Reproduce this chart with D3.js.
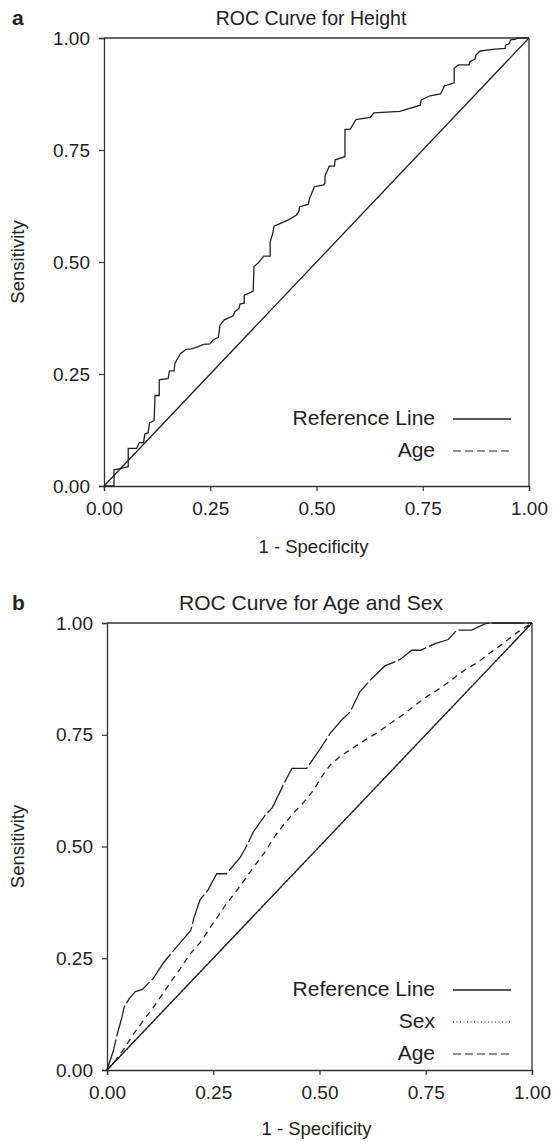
<!DOCTYPE html>
<html>
<head>
<meta charset="utf-8">
<script src="https://cdn.jsdelivr.net/npm/d3@7"></script>
<style>
  body { margin: 0; background: #fff; }
  svg text { font-family: "Liberation Sans", Arial, sans-serif; fill: #222; }
</style>
</head>
<body>
<div id="root"></div>
<script>
// ROC points: [1 - specificity, sensitivity]
const heightROC = [[0,0],[0.0235,0],[0.0235,0.036],[0.038,0.039],[0.057,0.043],[0.057,0.084],[0.077,0.084],[0.083,0.097],[0.093,0.097],[0.096,0.116],[0.104,0.119],[0.107,0.141],[0.118,0.146],[0.12,0.202],[0.13,0.202],[0.13,0.237],[0.151,0.24],[0.154,0.257],[0.165,0.257],[0.167,0.274],[0.176,0.289],[0.18,0.296],[0.193,0.305],[0.206,0.306],[0.222,0.311],[0.234,0.316],[0.249,0.317],[0.257,0.326],[0.269,0.332],[0.273,0.359],[0.283,0.371],[0.304,0.38],[0.308,0.389],[0.318,0.397],[0.32,0.406],[0.33,0.408],[0.33,0.426],[0.34,0.43],[0.351,0.435],[0.353,0.49],[0.363,0.498],[0.376,0.513],[0.391,0.513],[0.391,0.545],[0.397,0.564],[0.40,0.58],[0.41,0.584],[0.434,0.594],[0.453,0.605],[0.459,0.614],[0.46,0.623],[0.481,0.629],[0.483,0.64],[0.495,0.668],[0.517,0.672],[0.52,0.676],[0.52,0.692],[0.53,0.714],[0.542,0.714],[0.544,0.728],[0.567,0.735],[0.567,0.796],[0.579,0.796],[0.593,0.818],[0.626,0.823],[0.635,0.833],[0.696,0.836],[0.744,0.85],[0.746,0.861],[0.767,0.871],[0.792,0.875],[0.801,0.893],[0.824,0.9],[0.824,0.933],[0.834,0.94],[0.859,0.94],[0.861,0.947],[0.873,0.953],[0.875,0.962],[0.885,0.971],[0.92,0.975],[0.944,0.977],[0.945,0.984],[0.953,0.987],[0.957,0.996],[0.967,0.997],[0.975,1],[1,1]];

const sexROC = [[0,0],[0.015,0.043],[0.024,0.08],[0.035,0.117],[0.04,0.14],[0.052,0.159],[0.066,0.175],[0.084,0.181],[0.109,0.205],[0.133,0.24],[0.152,0.262],[0.178,0.291],[0.197,0.312],[0.205,0.342],[0.219,0.381],[0.238,0.403],[0.258,0.439],[0.281,0.439],[0.313,0.475],[0.325,0.495],[0.344,0.532],[0.372,0.57],[0.389,0.587],[0.413,0.634],[0.435,0.675],[0.47,0.675],[0.497,0.712],[0.525,0.753],[0.552,0.783],[0.572,0.801],[0.595,0.846],[0.623,0.876],[0.654,0.904],[0.689,0.918],[0.717,0.939],[0.738,0.939],[0.772,0.954],[0.803,0.963],[0.823,0.984],[0.858,0.984],[0.889,0.998],[0.9,1],[1,1]];

const ageROC = [[0,0],[0.019,0.02],[0.042,0.05],[0.062,0.08],[0.085,0.11],[0.109,0.14],[0.133,0.173],[0.152,0.2],[0.172,0.226],[0.195,0.259],[0.219,0.285],[0.238,0.312],[0.262,0.345],[0.281,0.372],[0.305,0.401],[0.328,0.431],[0.348,0.458],[0.372,0.488],[0.391,0.518],[0.415,0.548],[0.438,0.574],[0.462,0.598],[0.486,0.626],[0.505,0.656],[0.525,0.682],[0.548,0.701],[0.576,0.719],[0.607,0.738],[0.635,0.754],[0.666,0.775],[0.697,0.795],[0.725,0.816],[0.752,0.835],[0.784,0.854],[0.815,0.876],[0.842,0.895],[0.874,0.913],[0.901,0.933],[0.932,0.954],[0.964,0.978],[1,1]];

const referenceLine = [[0,0],[1,1]];
const tickValues = [0, 0.25, 0.5, 0.75, 1];

const W = 553, H = 1143;
const svg = d3.select("#root").append("svg")
    .attr("width", W)
    .attr("height", H);

const lineStroke = "#222";

function drawPanel(cfg) {
    const x = d3.scaleLinear().domain([0, 1]).range([cfg.left, cfg.right]);
    const y = d3.scaleLinear().domain([0, 1]).range([cfg.bottom, cfg.top]);
    const g = svg.append("g");

    // panel letter and title
    g.append("text")
        .attr("x", 12)
        .attr("y", cfg.top - 13)
        .style("font-size", "21px")
        .style("font-weight", "bold")
        .text(cfg.letter);

    g.append("text")
        .attr("x", 311)
        .attr("y", cfg.top - 13)
        .attr("text-anchor", "middle")
        .style("font-size", cfg.titleSize)
        .text(cfg.title);

    // axes
    const yAxis = g.append("g")
        .attr("transform", `translate(${cfg.left},0)`)
        .call(d3.axisLeft(y).tickValues(tickValues).tickFormat(d3.format(".2f")).tickSizeOuter(0).tickSize(5).tickPadding(9));
    const xAxis = g.append("g")
        .attr("transform", `translate(0,${cfg.bottom})`)
        .call(d3.axisBottom(x).tickValues(tickValues).tickFormat(d3.format(".2f")).tickSizeOuter(0).tickSize(5).tickPadding(7));
    [yAxis, xAxis].forEach(a => {
        a.select(".domain").attr("stroke", "#333").attr("stroke-width", 1.3);
        a.selectAll(".tick line").attr("stroke", "#333").attr("stroke-width", 1.2);
        a.selectAll(".tick text")
            .style("font-family", "Liberation Sans, Arial, sans-serif")
            .style("font-size", "19px")
            .attr("fill", "#222");
    });
    xAxis.selectAll(".tick text").attr("dy", "0.9em");

    // frame top + right
    g.append("line")
        .attr("x1", x(0)).attr("x2", x(1))
        .attr("y1", y(1)).attr("y2", y(1))
        .attr("stroke", "#333").attr("stroke-width", 1.3);
    g.append("line")
        .attr("x1", x(1)).attr("x2", x(1))
        .attr("y1", y(0)).attr("y2", y(1))
        .attr("stroke", "#333").attr("stroke-width", 1.3);

    g.append("text")
        .attr("transform", `translate(24,${(cfg.top + cfg.bottom) / 2}) rotate(-90)`)
        .attr("text-anchor", "middle")
        .style("font-size", "18.5px")
        .text("Sensitivity");

    g.append("text")
        .attr("x", (cfg.left + cfg.right) / 2 - 3)
        .attr("y", cfg.bottom + cfg.xLabelGap)
        .attr("text-anchor", "middle")
        .style("font-size", "18.5px")
        .text("1 - Specificity");

    const line = d3.line().x(d => x(d[0])).y(d => y(d[1]));

    cfg.series.forEach(s => {
        g.append("path")
            .datum(s.data)
            .attr("d", line)
            .attr("fill", "none")
            .attr("stroke", lineStroke)
            .attr("stroke-width", 1.3)
            .attr("stroke-dasharray", s.dash);
    });

    // legend
    cfg.legend.forEach((l, i) => {
        const ly = cfg.legendY + i * 32;
        g.append("text")
            .attr("x", 435)
            .attr("y", ly)
            .attr("text-anchor", "end")
            .style("font-size", "21px")
            .text(l.label);
        g.append("line")
            .attr("x1", 453).attr("x2", 511)
            .attr("y1", ly - 6).attr("y2", ly - 6)
            .attr("stroke", lineStroke)
            .attr("stroke-width", l.width)
            .attr("stroke-dasharray", l.dash);
    });
}

drawPanel({
    letter: "a",
    title: "ROC Curve for Height",
    titleSize: "19.5px",
    left: 104, right: 529, top: 38, bottom: 486,
    xLabelGap: 67,
    series: [
        { data: referenceLine, dash: null },
        { data: heightROC, dash: null }
    ],
    legendY: 425,
    legend: [
        { label: "Reference Line", dash: null, width: 1.3 },
        { label: "Age", dash: "8,4", width: 1.1 }
    ]
});

drawPanel({
    letter: "b",
    title: "ROC Curve for Age and Sex",
    titleSize: "21px",
    left: 107, right: 532, top: 623, bottom: 1070,
    xLabelGap: 65,
    series: [
        { data: referenceLine, dash: null },
        { data: referenceLine, dash: "1.5,2.5" },
        { data: ageROC, dash: "6,5" },
        { data: sexROC, dash: "32,3" }
    ],
    legendY: 996,
    legend: [
        { label: "Reference Line", dash: null, width: 1.3 },
        { label: "Sex", dash: "1,2.5", width: 1 },
        { label: "Age", dash: "8,4", width: 1.1 }
    ]
});
</script>
</body>
</html>
